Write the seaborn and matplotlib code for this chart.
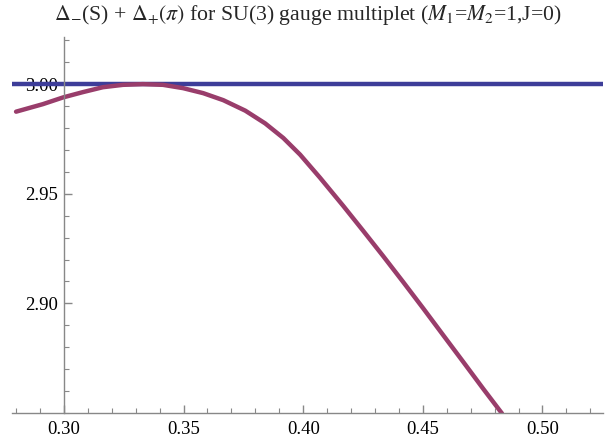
import numpy as np
import pandas as pd
import matplotlib
matplotlib.use('Agg')
import matplotlib.pyplot as plt
import seaborn as sns
from matplotlib.ticker import MultipleLocator, FixedLocator

# ---------------------------
# Datos
# ---------------------------
x_vals = [0.2800, 0.2912, 0.2996, 0.3079, 0.3163, 0.3247, 0.3330, 0.3414, 0.3498,
          0.3582, 0.3666, 0.3758, 0.3841, 0.3917, 0.3987, 0.4070, 0.4167, 0.4250,
          0.4334, 0.4418, 0.4502, 0.4585, 0.4669, 0.4753, 0.4831]
delta_sum = [2.98744, 2.99087, 2.99393, 2.99635, 2.99860, 2.99968, 3.00000, 2.99968, 2.99817,
             2.99589, 2.99269, 2.98790, 2.98210, 2.97543, 2.96785, 2.95735, 2.94452, 2.93320,
             2.92160, 2.90973, 2.89767, 2.88553, 2.87329, 2.86096, 2.84977]
nivel = 3.0
x_ticks = [0.30, 0.35, 0.40, 0.45, 0.50]
y_ticks = [2.90, 2.95, 3.00]

df = pd.DataFrame({'x': x_vals, 'y': delta_sum})
linea = pd.DataFrame({'x': [0.2783, 0.5253], 'y': [nivel, nivel]})

sns.set_style('white')
plt.rcParams['font.family'] = ['Liberation Serif', 'DejaVu Serif']
plt.rcParams['mathtext.fontset'] = 'stix'

fig = plt.figure(figsize=(6.05, 4.42), dpi=100)
ax = fig.add_axes([12 / 605, 1 - 413 / 442, 591 / 605, (413 - 37) / 442])

sns.lineplot(data=linea, x='x', y='y', color='#3d3d99', lw=3.2, ax=ax)
sns.lineplot(data=df, x='x', y='y', color='#993d6b', lw=3.2, ax=ax, sort=True)

ax.set_xlim(0.2783, 0.5253)
ax.set_ylim(2.85, 3.0215)

# Ejes estilo Mathematica
ax.spines['top'].set_visible(False)
ax.spines['right'].set_visible(False)
ax.spines['left'].set_position(('data', 0.30))
for s in ['left', 'bottom']:
    ax.spines[s].set_color('#888888')
    ax.spines[s].set_linewidth(1.0)

ax.xaxis.set_major_locator(FixedLocator(x_ticks))
ax.xaxis.set_minor_locator(MultipleLocator(0.01))
ax.yaxis.set_major_locator(FixedLocator(y_ticks))
ax.yaxis.set_minor_locator(MultipleLocator(0.01))
ax.set_xticklabels([f'{v:.2f}' for v in x_ticks])
ax.set_yticklabels([f'{v:.2f}' for v in y_ticks])
ax.tick_params(which='both', bottom=True, left=True)
ax.tick_params(which='major', direction='in', length=6, width=1, color='#888888',
               labelsize=13.5, labelcolor='black', pad=6)
ax.tick_params(which='minor', direction='in', length=3.5, width=0.8, color='#888888')
ax.tick_params(axis='y', which='major', pad=4)

ax.set_xlabel('')
ax.set_ylabel('')
ax.set_title(r'$\Delta_{-}$(S) + $\Delta_{+}(\pi)$ for SU(3) gauge multiplet ($M_1$=$M_2$=1,J=0)',
             fontsize=15.7, pad=12)

fig.savefig('out.png', dpi=100)
